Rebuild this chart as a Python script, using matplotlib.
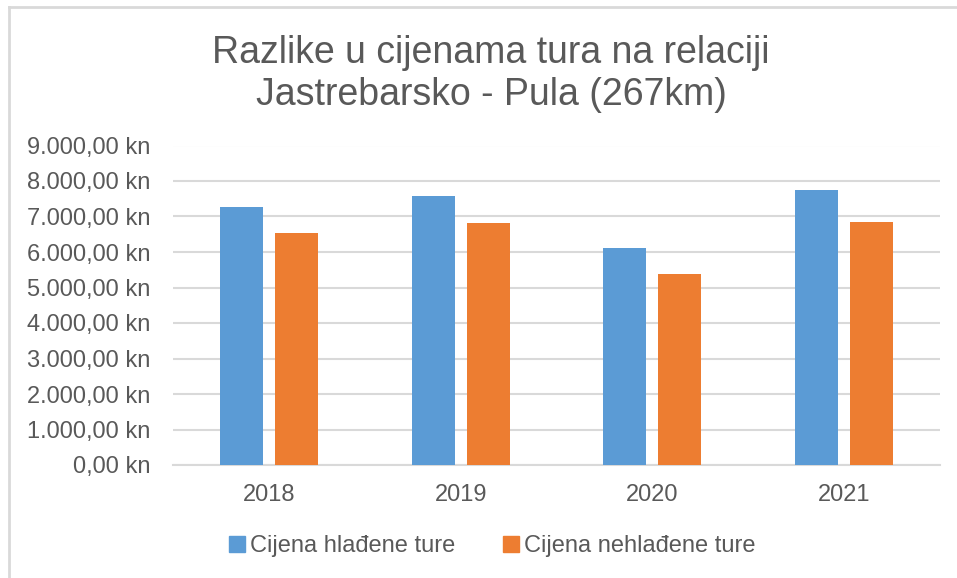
import matplotlib
matplotlib.use("Agg")
import matplotlib.pyplot as plt
import numpy as np
from matplotlib.lines import Line2D
from matplotlib.ticker import FuncFormatter

godine = ["2018", "2019", "2020", "2021"]
hladene = [7280, 7570, 6120, 7740]
nehladene = [6540, 6820, 5370, 6850]
serije = ["Cijena hlađene ture", "Cijena nehlađene ture"]

plava = "#5B9BD5"
narancasta = "#ED7D31"
siva_tekst = "#595959"
siva_mreza = "#D9D9D9"

plt.rcParams["font.family"] = ["Liberation Sans", "DejaVu Sans"]

fig = plt.figure(figsize=(9.57, 5.78), dpi=100)
ax = fig.add_axes([173 / 957, 1 - 465 / 578, (940 - 173) / 957, (465 - 145.5) / 578])

x = np.arange(len(godine))
sirina = 0.224
pomak = 0.143
ax.bar(x - pomak, hladene, sirina, color=plava, zorder=3, label=serije[0])
ax.bar(x + pomak, nehladene, sirina, color=narancasta, zorder=3, label=serije[1])

ax.set_xlim(-0.5, len(godine) - 0.5)
ax.set_ylim(0, 9000)
ax.set_yticks(range(0, 9001, 1000))


def kune(v, pos):
    s = f"{v:,.2f}".replace(",", " ").replace(".", ",").replace(" ", ".")
    return s + " kn"


ax.yaxis.set_major_formatter(FuncFormatter(kune))
ax.set_xticks(x)
ax.set_xticklabels(godine)
ax.tick_params(axis="y", length=0, pad=16, labelsize=17, labelcolor=siva_tekst)
ax.tick_params(axis="x", length=0, pad=14, labelsize=17, labelcolor=siva_tekst)

ax.grid(axis="y", color=siva_mreza, linewidth=1.5, zorder=0)
for s in ["top", "right", "left"]:
    ax.spines[s].set_visible(False)
ax.spines["bottom"].set_color(siva_mreza)
ax.spines["bottom"].set_linewidth(1.5)

fig.text(491 / 957, 1 - 74 / 578,
         "Razlike u cijenama tura na relaciji\nJastrebarsko - Pula (267km)",
         ha="center", va="center", fontsize=27, color=siva_tekst, linespacing=1.22)

ruke = [Line2D([], [], marker="s", linestyle="none", markersize=11, color=plava),
        Line2D([], [], marker="s", linestyle="none", markersize=11, color=narancasta)]
leg = fig.legend(ruke, serije, loc="center", bbox_to_anchor=(492 / 957, 1 - 546 / 578),
                 ncol=2, frameon=False, fontsize=17, handlelength=0.7,
                 handletextpad=0.2, columnspacing=2.0, labelcolor=siva_tekst)

# okvir grafikona (gornji i lijevi rub)
fig.add_artist(Line2D([9 / 957, 1], [1 - 7 / 578, 1 - 7 / 578], transform=fig.transFigure,
                      color=siva_mreza, linewidth=2))
fig.add_artist(Line2D([9 / 957, 9 / 957], [0, 1 - 7 / 578], transform=fig.transFigure,
                      color=siva_mreza, linewidth=2))

fig.savefig("out.png", dpi=100)
